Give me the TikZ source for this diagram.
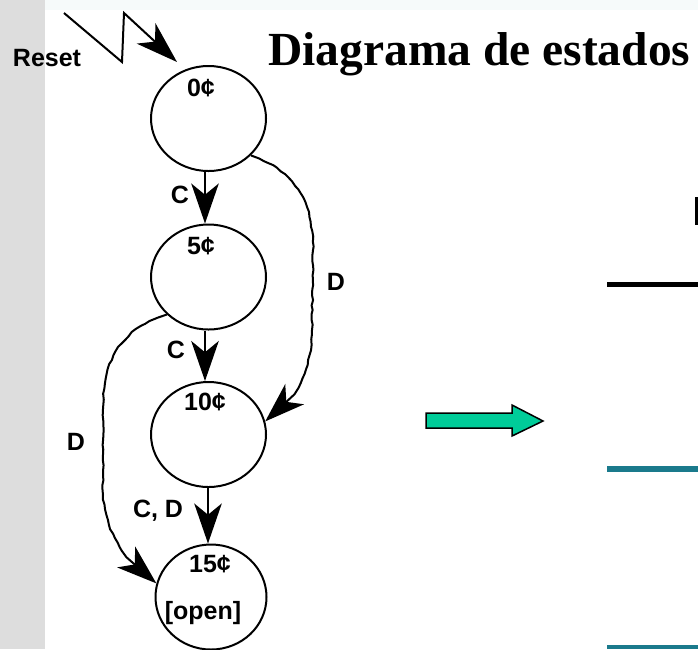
\documentclass[tikz,border=0pt]{standalone}
\usepackage{fontspec}
\setmainfont{Liberation Serif}
\newfontfamily\lblfont{Liberation Sans}
\usetikzlibrary{arrows.meta,shapes.geometric,decorations.pathmorphing}
\definecolor{stripgray}{RGB}{221,221,221}
\definecolor{topband}{RGB}{246,250,250}
\definecolor{arrowgreen}{RGB}{0,204,153}
\definecolor{rowteal}{RGB}{26,122,140}

\begin{document}
\begin{tikzpicture}[x=1pt,y=-1pt,
  state/.style={ellipse, draw, line width=2pt, minimum width=115pt, minimum height=105pt, inner sep=0pt},
  lbl/.style={font=\lblfont\bfseries\fontsize{25}{25}\selectfont, inner sep=0pt, anchor=base},
  trans/.style={line width=2pt, -{Stealth[length=32pt,width=22pt,inset=9pt,scale=1.25]}},
  wobbly/.style={decorate, decoration={random steps, segment length=5pt, amplitude=0.7pt, pre length=4pt, post length=40pt}},
]
\pgfmathsetseed{7}
% page, side strip and top band
\useasboundingbox (0,0) rectangle (698,649);
\fill[white] (0,0) rectangle (698,649);
\fill[stripgray] (0,0) rectangle (45,649);
\fill[topband] (45,0) rectangle (698,10);

% title
\node[anchor=base west, inner sep=0pt, font=\bfseries\fontsize{47.5}{48}\selectfont] (title) at (268,65) {Diagrama de estados};

% states
\node[state] (s0)  at (208.5,118.5) {};
\node[state] (s5)  at (208.5,277) {};
\node[state] (s10) at (208.5,434.5) {};
\node[state, minimum width=111pt] (s15) at (211,597) {};

\node[lbl] (l0)  at (201,96)  {0¢};
\node[lbl] (l5)  at (201,254) {5¢};
\node[lbl] (l10) at (205,410) {10¢};
\node[lbl] (l15) at (210,572) {15¢};
\node[lbl] (lop) at (203,619) {[open]};

% reset input
\coordinate (rz1) at (64,13);
\coordinate (rz2) at (122,62);
\coordinate (rz3) at (124,13);
\coordinate (rtip) at (177,62);
\draw[line width=2pt, -{Stealth[length=35pt,width=23pt,inset=10pt,scale=1.2]}] (rz1) -- (rz2) -- (rz3) -- (rtip);
\node[lbl] (reset) at (47,66) {Reset};

% transitions
\draw[trans] ([xshift=-3.5pt]s0.south) -- ([xshift=-3.5pt]s5.north);
\draw[trans] ([xshift=-3.5pt]s5.south) -- ([xshift=-3.5pt]s10.north);
\draw[trans] ([xshift=-0.5pt]s10.south) -- ([xshift=-3pt]s15.north);
\draw[trans, wobbly] (s0.-41) .. controls (290,170) and (313,195) .. (313,250)
  -- (312,330) .. controls (310,380) and (295,400) .. (s10.13);
\draw[trans, wobbly] (s5.222) .. controls (120,330) and (103,360) .. (103,410)
  -- (103,495) .. controls (105,530) and (125,565) .. (s15.166);

\node[lbl] (c1) at (180,203) {C};
\node[lbl] (c2) at (176,358) {C};
\node[lbl] (c3) at (158,517) {C, D};
\node[lbl] (d1) at (336,290) {D};
\node[lbl] (d2) at (76,450)  {D};

% block arrow
\filldraw[fill=arrowgreen, draw=black, line width=1.5pt]
  (426,413) -- (512,413) -- (512,405) -- (543,421) -- (512,436) -- (512,428) -- (426,428) -- cycle;

% rules at the right edge
\fill[black] (695,197) rectangle (698,225);
\fill[black] (607,282) rectangle (698,287);
\fill[rowteal] (607,466) rectangle (698,472);
\fill[rowteal] (607,645) rectangle (698,649);
\end{tikzpicture}
\end{document}
